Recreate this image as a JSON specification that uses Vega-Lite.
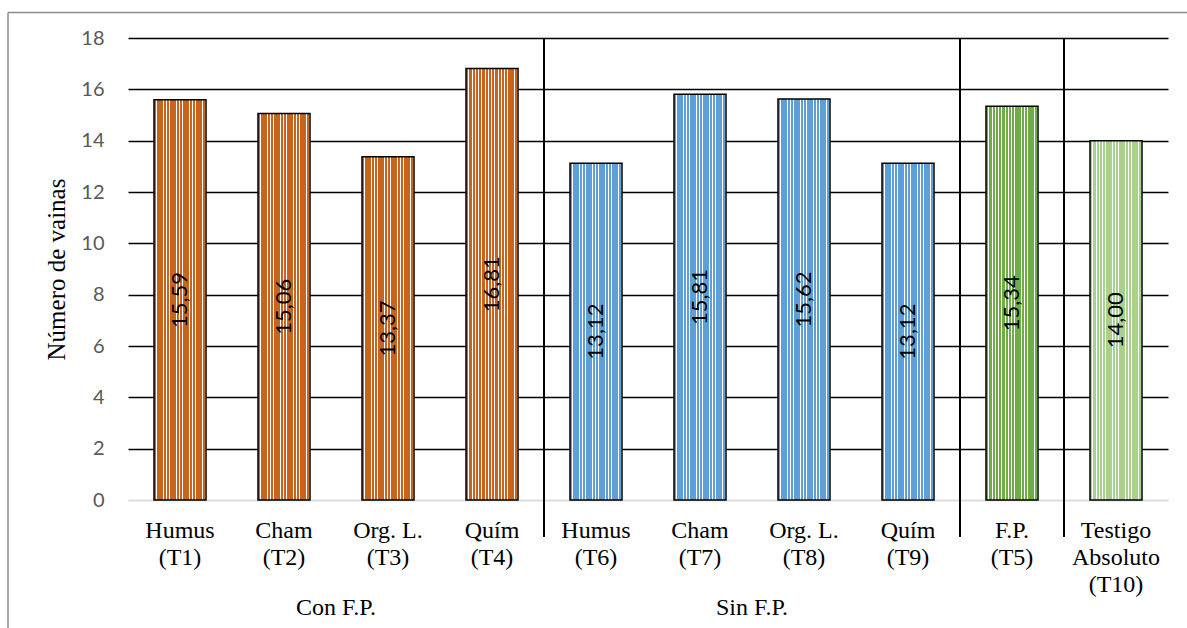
{
  "$schema": "https://vega.github.io/schema/vega-lite/v6.json",
  "width": 1040,
  "height": 462,
  "autosize": {"type": "none"},
  "padding": {"left": 128, "top": 38, "right": 19, "bottom": 128},
  "background": "white",
  "config": {
    "locale": {"number": {"decimal": ",", "thousands": ".", "grouping": [3], "currency": ["", " €"]}},
    "view": {"stroke": null}
  },
  "data": {
    "values": [
      {"cat": "Humus|(T1)", "grp": "Con F.P.", "v": 15.59},
      {"cat": "Cham|(T2)", "grp": "Con F.P.", "v": 15.06},
      {"cat": "Org. L.|(T3)", "grp": "Con F.P.", "v": 13.37},
      {"cat": "Quím|(T4)", "grp": "Con F.P.", "v": 16.81},
      {"cat": "Humus|(T6)", "grp": "Sin F.P.", "v": 13.12},
      {"cat": "Cham|(T7)", "grp": "Sin F.P.", "v": 15.81},
      {"cat": "Org. L.|(T8)", "grp": "Sin F.P.", "v": 15.62},
      {"cat": "Quím|(T9)", "grp": "Sin F.P.", "v": 13.12},
      {"cat": "F.P.|(T5)", "grp": "F.P.", "v": 15.34},
      {"cat": "Testigo|Absoluto|(T10)", "grp": "Testigo", "v": 14.0}
    ]
  },
  "resolve": {"scale": {"y": "independent"}},
  "layer": [
    {
      "encoding": {
        "x": {
          "field": "cat",
          "type": "nominal",
          "sort": null,
          "scale": {
            "domain": ["Humus|(T1)", "Cham|(T2)", "Org. L.|(T3)", "Quím|(T4)", "Humus|(T6)", "Cham|(T7)", "Org. L.|(T8)", "Quím|(T9)", "F.P.|(T5)", "Testigo|Absoluto|(T10)"],
            "paddingInner": 0,
            "paddingOuter": 0
          },
          "axis": {
            "title": null,
            "labelAngle": 0,
            "labelExpr": "split(datum.value, '|')",
            "labelFont": "Liberation Serif",
            "labelFontSize": 24,
            "labelColor": "#000000",
            "labelLineHeight": 27,
            "labelPadding": 18,
            "ticks": false,
            "domainColor": "#d9d9d9",
            "domainWidth": 1.5
          }
        },
        "y": {
          "field": "v",
          "type": "quantitative",
          "scale": {"domain": [0, 18], "nice": false},
          "axis": {
            "values": [0, 2, 4, 6, 8, 10, 12, 14, 16, 18],
            "title": "Número de vainas",
            "titleFont": "Liberation Serif",
            "titleFontSize": 25,
            "titleFontWeight": "normal",
            "titleColor": "#000000",
            "titlePadding": 11,
            "labelFont": "Lato",
            "labelFontSize": 20,
            "labelColor": "#595959",
            "labelPadding": 24,
            "ticks": false,
            "domain": false,
            "grid": true,
            "gridWidth": 1.5,
            "gridColor": {"condition": {"test": "datum.value === 0", "value": "#d9d9d9"}, "value": "#000000"}
          }
        }
      },
      "layer": [
        {
          "transform": [{"filter": {"field": "grp", "equal": "Con F.P."}}],
          "mark": {
            "type": "bar",
            "width": {"band": 0.5},
            "stroke": "#000000",
            "strokeWidth": 1.5,
            "fill": {
              "gradient": "linear", "x1": 0, "x2": 1, "y1": 0, "y2": 0,
              "stops": [
                {"offset": 0, "color": "#c9641f"}, {"offset": 0.04375, "color": "#c9641f"}, {"offset": 0.04375, "color": "#ffffff"}, {"offset": 0.0625, "color": "#ffffff"},
                {"offset": 0.0625, "color": "#c9641f"}, {"offset": 0.10625, "color": "#c9641f"}, {"offset": 0.10625, "color": "#ffffff"}, {"offset": 0.125, "color": "#ffffff"},
                {"offset": 0.125, "color": "#c9641f"}, {"offset": 0.16875, "color": "#c9641f"}, {"offset": 0.16875, "color": "#ffffff"}, {"offset": 0.1875, "color": "#ffffff"},
                {"offset": 0.1875, "color": "#c9641f"}, {"offset": 0.23125, "color": "#c9641f"}, {"offset": 0.23125, "color": "#ffffff"}, {"offset": 0.25, "color": "#ffffff"},
                {"offset": 0.25, "color": "#c9641f"}, {"offset": 0.29375, "color": "#c9641f"}, {"offset": 0.29375, "color": "#ffffff"}, {"offset": 0.3125, "color": "#ffffff"},
                {"offset": 0.3125, "color": "#c9641f"}, {"offset": 0.35625, "color": "#c9641f"}, {"offset": 0.35625, "color": "#ffffff"}, {"offset": 0.375, "color": "#ffffff"},
                {"offset": 0.375, "color": "#c9641f"}, {"offset": 0.41875, "color": "#c9641f"}, {"offset": 0.41875, "color": "#ffffff"}, {"offset": 0.4375, "color": "#ffffff"},
                {"offset": 0.4375, "color": "#c9641f"}, {"offset": 0.48125, "color": "#c9641f"}, {"offset": 0.48125, "color": "#ffffff"}, {"offset": 0.5, "color": "#ffffff"},
                {"offset": 0.5, "color": "#c9641f"}, {"offset": 0.54375, "color": "#c9641f"}, {"offset": 0.54375, "color": "#ffffff"}, {"offset": 0.5625, "color": "#ffffff"},
                {"offset": 0.5625, "color": "#c9641f"}, {"offset": 0.60625, "color": "#c9641f"}, {"offset": 0.60625, "color": "#ffffff"}, {"offset": 0.625, "color": "#ffffff"},
                {"offset": 0.625, "color": "#c9641f"}, {"offset": 0.66875, "color": "#c9641f"}, {"offset": 0.66875, "color": "#ffffff"}, {"offset": 0.6875, "color": "#ffffff"},
                {"offset": 0.6875, "color": "#c9641f"}, {"offset": 0.73125, "color": "#c9641f"}, {"offset": 0.73125, "color": "#ffffff"}, {"offset": 0.75, "color": "#ffffff"},
                {"offset": 0.75, "color": "#c9641f"}, {"offset": 0.79375, "color": "#c9641f"}, {"offset": 0.79375, "color": "#ffffff"}, {"offset": 0.8125, "color": "#ffffff"},
                {"offset": 0.8125, "color": "#c9641f"}, {"offset": 0.85625, "color": "#c9641f"}, {"offset": 0.85625, "color": "#ffffff"}, {"offset": 0.875, "color": "#ffffff"},
                {"offset": 0.875, "color": "#c9641f"}, {"offset": 0.91875, "color": "#c9641f"}, {"offset": 0.91875, "color": "#ffffff"}, {"offset": 0.9375, "color": "#ffffff"},
                {"offset": 0.9375, "color": "#c9641f"}, {"offset": 0.98125, "color": "#c9641f"}, {"offset": 0.98125, "color": "#ffffff"}, {"offset": 1, "color": "#ffffff"}
              ]
            }
          }
        },
        {
          "transform": [{"filter": {"field": "grp", "equal": "Sin F.P."}}],
          "mark": {
            "type": "bar",
            "width": {"band": 0.5},
            "stroke": "#000000",
            "strokeWidth": 1.5,
            "fill": {
              "gradient": "linear", "x1": 0, "x2": 1, "y1": 0, "y2": 0,
              "stops": [
                {"offset": 0, "color": "#5f9fd8"}, {"offset": 0.04375, "color": "#5f9fd8"}, {"offset": 0.04375, "color": "#ffffff"}, {"offset": 0.0625, "color": "#ffffff"},
                {"offset": 0.0625, "color": "#5f9fd8"}, {"offset": 0.10625, "color": "#5f9fd8"}, {"offset": 0.10625, "color": "#ffffff"}, {"offset": 0.125, "color": "#ffffff"},
                {"offset": 0.125, "color": "#5f9fd8"}, {"offset": 0.16875, "color": "#5f9fd8"}, {"offset": 0.16875, "color": "#ffffff"}, {"offset": 0.1875, "color": "#ffffff"},
                {"offset": 0.1875, "color": "#5f9fd8"}, {"offset": 0.23125, "color": "#5f9fd8"}, {"offset": 0.23125, "color": "#ffffff"}, {"offset": 0.25, "color": "#ffffff"},
                {"offset": 0.25, "color": "#5f9fd8"}, {"offset": 0.29375, "color": "#5f9fd8"}, {"offset": 0.29375, "color": "#ffffff"}, {"offset": 0.3125, "color": "#ffffff"},
                {"offset": 0.3125, "color": "#5f9fd8"}, {"offset": 0.35625, "color": "#5f9fd8"}, {"offset": 0.35625, "color": "#ffffff"}, {"offset": 0.375, "color": "#ffffff"},
                {"offset": 0.375, "color": "#5f9fd8"}, {"offset": 0.41875, "color": "#5f9fd8"}, {"offset": 0.41875, "color": "#ffffff"}, {"offset": 0.4375, "color": "#ffffff"},
                {"offset": 0.4375, "color": "#5f9fd8"}, {"offset": 0.48125, "color": "#5f9fd8"}, {"offset": 0.48125, "color": "#ffffff"}, {"offset": 0.5, "color": "#ffffff"},
                {"offset": 0.5, "color": "#5f9fd8"}, {"offset": 0.54375, "color": "#5f9fd8"}, {"offset": 0.54375, "color": "#ffffff"}, {"offset": 0.5625, "color": "#ffffff"},
                {"offset": 0.5625, "color": "#5f9fd8"}, {"offset": 0.60625, "color": "#5f9fd8"}, {"offset": 0.60625, "color": "#ffffff"}, {"offset": 0.625, "color": "#ffffff"},
                {"offset": 0.625, "color": "#5f9fd8"}, {"offset": 0.66875, "color": "#5f9fd8"}, {"offset": 0.66875, "color": "#ffffff"}, {"offset": 0.6875, "color": "#ffffff"},
                {"offset": 0.6875, "color": "#5f9fd8"}, {"offset": 0.73125, "color": "#5f9fd8"}, {"offset": 0.73125, "color": "#ffffff"}, {"offset": 0.75, "color": "#ffffff"},
                {"offset": 0.75, "color": "#5f9fd8"}, {"offset": 0.79375, "color": "#5f9fd8"}, {"offset": 0.79375, "color": "#ffffff"}, {"offset": 0.8125, "color": "#ffffff"},
                {"offset": 0.8125, "color": "#5f9fd8"}, {"offset": 0.85625, "color": "#5f9fd8"}, {"offset": 0.85625, "color": "#ffffff"}, {"offset": 0.875, "color": "#ffffff"},
                {"offset": 0.875, "color": "#5f9fd8"}, {"offset": 0.91875, "color": "#5f9fd8"}, {"offset": 0.91875, "color": "#ffffff"}, {"offset": 0.9375, "color": "#ffffff"},
                {"offset": 0.9375, "color": "#5f9fd8"}, {"offset": 0.98125, "color": "#5f9fd8"}, {"offset": 0.98125, "color": "#ffffff"}, {"offset": 1, "color": "#ffffff"}
              ]
            }
          }
        },
        {
          "transform": [{"filter": {"field": "grp", "equal": "F.P."}}],
          "mark": {
            "type": "bar",
            "width": {"band": 0.5},
            "stroke": "#000000",
            "strokeWidth": 1.5,
            "fill": {
              "gradient": "linear", "x1": 0, "x2": 1, "y1": 0, "y2": 0,
              "stops": [
                {"offset": 0, "color": "#70ad47"}, {"offset": 0.04375, "color": "#70ad47"}, {"offset": 0.04375, "color": "#ffffff"}, {"offset": 0.0625, "color": "#ffffff"},
                {"offset": 0.0625, "color": "#70ad47"}, {"offset": 0.10625, "color": "#70ad47"}, {"offset": 0.10625, "color": "#ffffff"}, {"offset": 0.125, "color": "#ffffff"},
                {"offset": 0.125, "color": "#70ad47"}, {"offset": 0.16875, "color": "#70ad47"}, {"offset": 0.16875, "color": "#ffffff"}, {"offset": 0.1875, "color": "#ffffff"},
                {"offset": 0.1875, "color": "#70ad47"}, {"offset": 0.23125, "color": "#70ad47"}, {"offset": 0.23125, "color": "#ffffff"}, {"offset": 0.25, "color": "#ffffff"},
                {"offset": 0.25, "color": "#70ad47"}, {"offset": 0.29375, "color": "#70ad47"}, {"offset": 0.29375, "color": "#ffffff"}, {"offset": 0.3125, "color": "#ffffff"},
                {"offset": 0.3125, "color": "#70ad47"}, {"offset": 0.35625, "color": "#70ad47"}, {"offset": 0.35625, "color": "#ffffff"}, {"offset": 0.375, "color": "#ffffff"},
                {"offset": 0.375, "color": "#70ad47"}, {"offset": 0.41875, "color": "#70ad47"}, {"offset": 0.41875, "color": "#ffffff"}, {"offset": 0.4375, "color": "#ffffff"},
                {"offset": 0.4375, "color": "#70ad47"}, {"offset": 0.48125, "color": "#70ad47"}, {"offset": 0.48125, "color": "#ffffff"}, {"offset": 0.5, "color": "#ffffff"},
                {"offset": 0.5, "color": "#70ad47"}, {"offset": 0.54375, "color": "#70ad47"}, {"offset": 0.54375, "color": "#ffffff"}, {"offset": 0.5625, "color": "#ffffff"},
                {"offset": 0.5625, "color": "#70ad47"}, {"offset": 0.60625, "color": "#70ad47"}, {"offset": 0.60625, "color": "#ffffff"}, {"offset": 0.625, "color": "#ffffff"},
                {"offset": 0.625, "color": "#70ad47"}, {"offset": 0.66875, "color": "#70ad47"}, {"offset": 0.66875, "color": "#ffffff"}, {"offset": 0.6875, "color": "#ffffff"},
                {"offset": 0.6875, "color": "#70ad47"}, {"offset": 0.73125, "color": "#70ad47"}, {"offset": 0.73125, "color": "#ffffff"}, {"offset": 0.75, "color": "#ffffff"},
                {"offset": 0.75, "color": "#70ad47"}, {"offset": 0.79375, "color": "#70ad47"}, {"offset": 0.79375, "color": "#ffffff"}, {"offset": 0.8125, "color": "#ffffff"},
                {"offset": 0.8125, "color": "#70ad47"}, {"offset": 0.85625, "color": "#70ad47"}, {"offset": 0.85625, "color": "#ffffff"}, {"offset": 0.875, "color": "#ffffff"},
                {"offset": 0.875, "color": "#70ad47"}, {"offset": 0.91875, "color": "#70ad47"}, {"offset": 0.91875, "color": "#ffffff"}, {"offset": 0.9375, "color": "#ffffff"},
                {"offset": 0.9375, "color": "#70ad47"}, {"offset": 0.98125, "color": "#70ad47"}, {"offset": 0.98125, "color": "#ffffff"}, {"offset": 1, "color": "#ffffff"}
              ]
            }
          }
        },
        {
          "transform": [{"filter": {"field": "grp", "equal": "Testigo"}}],
          "mark": {
            "type": "bar",
            "width": {"band": 0.5},
            "stroke": "#000000",
            "strokeWidth": 1.5,
            "fill": {
              "gradient": "linear", "x1": 0, "x2": 1, "y1": 0, "y2": 0,
              "stops": [
                {"offset": 0, "color": "#a9d18e"}, {"offset": 0.04375, "color": "#a9d18e"}, {"offset": 0.04375, "color": "#ffffff"}, {"offset": 0.0625, "color": "#ffffff"},
                {"offset": 0.0625, "color": "#a9d18e"}, {"offset": 0.10625, "color": "#a9d18e"}, {"offset": 0.10625, "color": "#ffffff"}, {"offset": 0.125, "color": "#ffffff"},
                {"offset": 0.125, "color": "#a9d18e"}, {"offset": 0.16875, "color": "#a9d18e"}, {"offset": 0.16875, "color": "#ffffff"}, {"offset": 0.1875, "color": "#ffffff"},
                {"offset": 0.1875, "color": "#a9d18e"}, {"offset": 0.23125, "color": "#a9d18e"}, {"offset": 0.23125, "color": "#ffffff"}, {"offset": 0.25, "color": "#ffffff"},
                {"offset": 0.25, "color": "#a9d18e"}, {"offset": 0.29375, "color": "#a9d18e"}, {"offset": 0.29375, "color": "#ffffff"}, {"offset": 0.3125, "color": "#ffffff"},
                {"offset": 0.3125, "color": "#a9d18e"}, {"offset": 0.35625, "color": "#a9d18e"}, {"offset": 0.35625, "color": "#ffffff"}, {"offset": 0.375, "color": "#ffffff"},
                {"offset": 0.375, "color": "#a9d18e"}, {"offset": 0.41875, "color": "#a9d18e"}, {"offset": 0.41875, "color": "#ffffff"}, {"offset": 0.4375, "color": "#ffffff"},
                {"offset": 0.4375, "color": "#a9d18e"}, {"offset": 0.48125, "color": "#a9d18e"}, {"offset": 0.48125, "color": "#ffffff"}, {"offset": 0.5, "color": "#ffffff"},
                {"offset": 0.5, "color": "#a9d18e"}, {"offset": 0.54375, "color": "#a9d18e"}, {"offset": 0.54375, "color": "#ffffff"}, {"offset": 0.5625, "color": "#ffffff"},
                {"offset": 0.5625, "color": "#a9d18e"}, {"offset": 0.60625, "color": "#a9d18e"}, {"offset": 0.60625, "color": "#ffffff"}, {"offset": 0.625, "color": "#ffffff"},
                {"offset": 0.625, "color": "#a9d18e"}, {"offset": 0.66875, "color": "#a9d18e"}, {"offset": 0.66875, "color": "#ffffff"}, {"offset": 0.6875, "color": "#ffffff"},
                {"offset": 0.6875, "color": "#a9d18e"}, {"offset": 0.73125, "color": "#a9d18e"}, {"offset": 0.73125, "color": "#ffffff"}, {"offset": 0.75, "color": "#ffffff"},
                {"offset": 0.75, "color": "#a9d18e"}, {"offset": 0.79375, "color": "#a9d18e"}, {"offset": 0.79375, "color": "#ffffff"}, {"offset": 0.8125, "color": "#ffffff"},
                {"offset": 0.8125, "color": "#a9d18e"}, {"offset": 0.85625, "color": "#a9d18e"}, {"offset": 0.85625, "color": "#ffffff"}, {"offset": 0.875, "color": "#ffffff"},
                {"offset": 0.875, "color": "#a9d18e"}, {"offset": 0.91875, "color": "#a9d18e"}, {"offset": 0.91875, "color": "#ffffff"}, {"offset": 0.9375, "color": "#ffffff"},
                {"offset": 0.9375, "color": "#a9d18e"}, {"offset": 0.98125, "color": "#a9d18e"}, {"offset": 0.98125, "color": "#ffffff"}, {"offset": 1, "color": "#ffffff"}
              ]
            }
          }
        },
        {
          "transform": [{"filter": {"field": "cat", "oneOf": ["Humus|(T6)", "F.P.|(T5)", "Testigo|Absoluto|(T10)"]}}],
          "mark": {"type": "rule", "stroke": "#000000", "strokeWidth": 2, "y2Offset": 37},
          "encoding": {
            "x": {"field": "cat", "type": "nominal", "bandPosition": 0},
            "y": {"datum": 18},
            "y2": {"datum": 0}
          }
        },
        {
          "transform": [{"filter": {"field": "cat", "oneOf": ["Cham|(T2)", "Cham|(T7)"]}}],
          "mark": {"type": "text", "font": "Liberation Serif", "fontSize": 24, "fill": "#000000", "align": "center", "baseline": "alphabetic", "dy": 115},
          "encoding": {
            "x": {"field": "cat", "type": "nominal", "bandPosition": 1},
            "y": {"datum": 0},
            "text": {"field": "grp", "type": "nominal"}
          }
        },
        {
          "transform": [{"filter": {"field": "cat", "equal": "Humus|(T1)"}}],
          "mark": {"type": "rule", "stroke": "#8c8c8c", "strokeWidth": 1.5, "xOffset": -120, "yOffset": -25.5, "y2Offset": 140},
          "encoding": {
            "x": {"field": "cat", "type": "nominal", "bandPosition": 0},
            "y": {"datum": 18},
            "y2": {"datum": 0}
          }
        },
        {
          "transform": [{"filter": {"field": "cat", "equal": "Humus|(T1)"}}],
          "mark": {"type": "rule", "stroke": "#8c8c8c", "strokeWidth": 1.5, "xOffset": -120, "x2Offset": 1100, "yOffset": -25.5},
          "encoding": {
            "x": {"field": "cat", "type": "nominal", "bandPosition": 0},
            "x2": {"field": "cat", "bandPosition": 0},
            "y": {"datum": 18}
          }
        }
      ]
    },
    {
      "mark": {"type": "text", "angle": 270, "font": "Lato", "fontSize": 22, "fill": "#000000", "align": "center", "baseline": "middle"},
      "encoding": {
        "x": {"field": "cat", "type": "nominal", "sort": null},
        "y": {"field": "v", "type": "quantitative", "scale": {"domain": [0, 36], "nice": false}, "axis": null},
        "text": {"field": "v", "type": "quantitative", "format": ".2f"}
      }
    }
  ]
}
